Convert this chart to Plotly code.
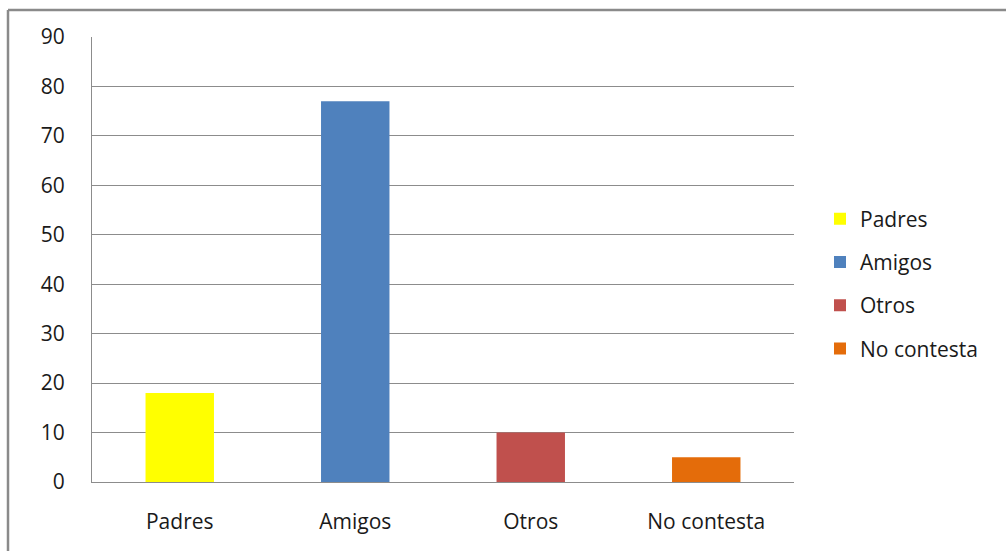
import plotly.graph_objects as go

# Survey answers
categories = ["Padres", "Amigos", "Otros", "No contesta"]
values = [18, 77, 10, 5]
colors = ["#FFFF00", "#4F81BD", "#C0504D", "#E46C0A"]
y_ticks = [0, 10, 20, 30, 40, 50, 60, 70, 80, 90]

W, H = 1006, 551
ML, MR, MT, MB = 92, 212, 37, 69
PW, PH = W - ML - MR, H - MT - MB

def px_x(px):
    return (px - ML) / PW

def px_y(py):
    return (H - MB - py) / PH

FONT = "Open Sans"
GRID = "#8C8C8C"

fig = go.Figure()
for i, (cat, val, col) in enumerate(zip(categories, values, colors)):
    fig.add_trace(go.Bar(
        x=[cat], y=[val], name=cat, marker=dict(color=col, line=dict(width=0)),
        width=0.39, legendgroup=f"g{i}",
    ))

fig.update_layout(
    width=W, height=H,
    margin=dict(l=ML, r=MR, t=MT, b=MB),
    paper_bgcolor="white", plot_bgcolor="white",
    barmode="overlay",
    font=dict(family=FONT, size=21, color="#1a1a1a"),
    showlegend=True,
    legend=dict(
        x=px_x(820), xanchor="left", y=px_y(284), yanchor="middle",
        traceorder="grouped", tracegroupgap=13,
        font=dict(family=FONT, size=21, color="#1a1a1a"),
        bgcolor="rgba(0,0,0,0)",
    ),
    xaxis=dict(
        categoryorder="array", categoryarray=categories,
        showgrid=False, showline=True, linecolor=GRID, linewidth=1,
        ticks="", ticklabelstandoff=21,
    ),
    yaxis=dict(
        range=[0, 90], tickvals=y_ticks, showgrid=True, gridcolor=GRID, gridwidth=1,
        showline=True, linecolor=GRID, linewidth=1, ticks="",
        zeroline=False, ticklabelstandoff=22, mirror=False,
    ),
    shapes=[
        # chart frame (top and left edges)
        dict(type="line", xref="paper", yref="paper",
             x0=px_x(8), x1=px_x(1010), y0=px_y(10), y1=px_y(10),
             line=dict(color="#8A8A8A", width=2.5)),
        dict(type="line", xref="paper", yref="paper",
             x0=px_x(8), x1=px_x(8), y0=px_y(10), y1=px_y(560),
             line=dict(color="#8A8A8A", width=2.5)),
    ],
)

fig.write_html("out.html")
